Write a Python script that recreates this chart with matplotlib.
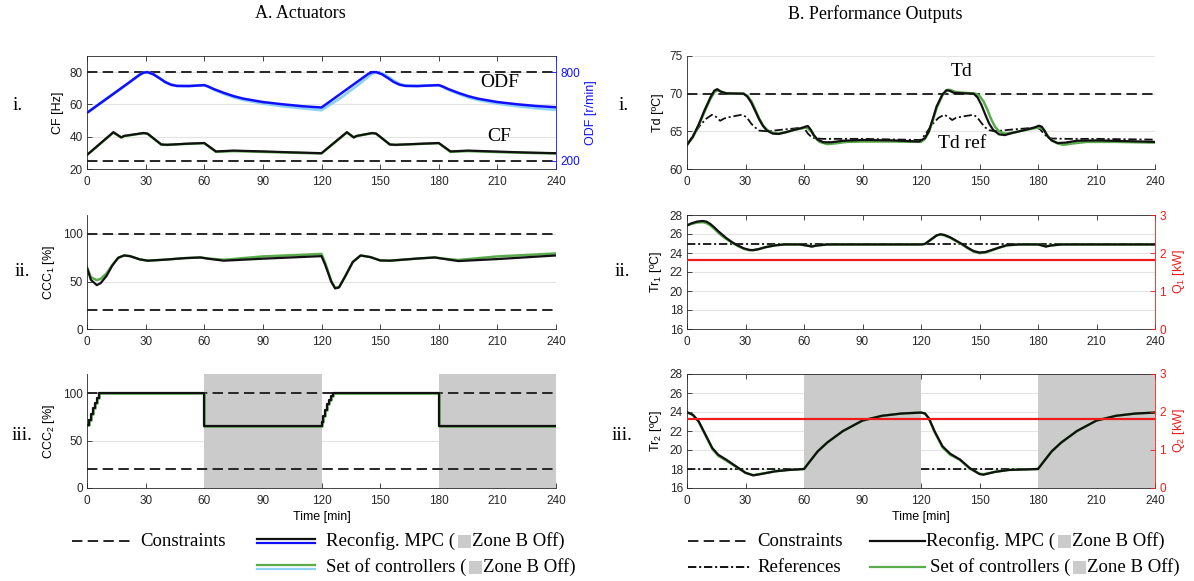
import matplotlib
matplotlib.use("Agg")
import matplotlib.pyplot as plt
from matplotlib.lines import Line2D
from matplotlib.patches import Rectangle

plt.rcParams['font.family'] = 'Liberation Sans'
plt.rcParams['mathtext.fontset'] = 'custom'
plt.rcParams['mathtext.rm'] = 'Liberation Sans'
plt.rcParams['mathtext.it'] = 'Liberation Sans:italic'
plt.rcParams['lines.scale_dashes'] = False

SERIF = 'Liberation Serif'
W, H = 1194, 581

# ---------------- data ----------------
zone_b_off = [(60, 120), (180, 240)]
cf_limits = [25, 80]
ccc_limits = [20, 100]
td_max = 70
q1_value = 1.82
q2_value = 1.82
tr1_ref = 24.9
tr2_ref = 18.0
tr2_ref_start = [0, 120]
tr2_ref_end = [60, 180]

# A.i  ODF [r/min]
t_odf = [0, 10, 20, 27, 29, 31, 34, 37, 40, 43, 46, 52, 56, 60, 62, 65, 70, 75, 80, 90, 100, 110, 120,
         130, 140, 144, 146, 148, 151, 154, 157, 160, 163, 169, 174, 180, 182, 185, 190, 195, 200, 210,
         220, 230, 240]
odf_mpc = [525, 620, 715, 783, 797, 800, 785, 760, 733, 715, 707, 706, 709, 712, 703, 685, 660, 638, 621,
           598, 583, 570, 561, 656, 751, 789, 800, 800, 785, 760, 733, 715, 707, 706, 709, 712, 703, 685,
           660, 638, 621, 598, 583, 571, 563]
odf_set = [525, 620, 715, 783, 797, 800, 785, 760, 733, 715, 707, 706, 709, 712, 701, 681, 654, 630, 612,
           588, 570, 556, 543, 628, 727, 770, 790, 800, 792, 770, 742, 720, 709, 706, 709, 712, 701, 681,
           654, 630, 612, 588, 570, 556, 545]

# A.i  CF [Hz]
t_cf = [0, 13.5, 17.5, 19, 29, 31, 38, 41, 50, 60, 66, 75, 90, 105, 120,
        133, 136.5, 138, 146, 148, 155, 158, 170, 180, 186, 195, 210, 225, 240]
cf_mpc = [28.7, 42.8, 39.6, 40.5, 42.3, 41.9, 35.2, 35.0, 35.6, 36.1, 30.9, 31.4, 30.9, 30.3, 29.8,
          42.8, 39.6, 40.5, 42.3, 41.9, 35.2, 35.0, 35.6, 36.1, 30.9, 31.4, 30.8, 30.2, 29.8]
cf_set = [28.7, 42.6, 39.5, 40.4, 42.2, 41.8, 35.1, 34.9, 35.5, 36.0, 30.6, 31.1, 30.6, 30.1, 29.6,
          42.6, 39.5, 40.4, 42.2, 41.8, 35.1, 34.9, 35.5, 36.0, 30.6, 31.1, 30.5, 30.0, 29.6]

# A.ii  CCC1 [%]
t_ccc1 = [0, 2, 5, 7, 10, 13, 16, 19, 22, 27, 31, 40, 50, 58, 62, 70, 90, 120,
          122, 125, 127, 129, 132, 136, 140, 145, 150, 155, 170, 178, 182, 190, 210, 240]
ccc1_mpc = [64.6, 51.7, 46.2, 48.3, 55.9, 67.0, 75.0, 77.4, 76.7, 73.3, 71.9, 73.0, 74.6, 75.3, 74.0,
            71.9, 74.0, 76.7, 67.0, 49.7, 42.7, 43.8, 54.9, 70.5, 77.4, 75.7, 72.2, 71.9, 74.3, 75.3,
            74.0, 71.5, 73.6, 77.4]
ccc1_set = [64.6, 54.5, 51.4, 52.8, 58.5, 67.5, 75.0, 77.4, 76.7, 73.3, 71.9, 73.0, 74.6, 75.3, 74.2,
            72.8, 76.4, 79.0, 69.0, 50.5, 43.2, 44.2, 55.0, 70.5, 77.4, 75.7, 72.2, 71.9, 74.3, 75.3,
            74.2, 72.6, 76.4, 79.5]

# A.iii  CCC2 [%]
t_ccc2 = [0, 1, 2, 3, 4, 5, 6, 60, 120, 121, 122, 123, 124, 125, 126, 180, 240]
ccc2_mpc = [66, 72, 78, 84, 90, 95, 100, 65, 70, 76, 82, 88, 93, 97, 100, 65, 65]
ccc2_set = [66, 72, 78, 84, 90, 95, 100, 65, 70, 76, 82, 88, 93, 97, 100, 65, 65]

# B.i  Td [ºC]
t_td = [0, 3, 6, 9, 12, 14, 15.5, 17, 20, 29, 31, 33, 35, 37, 39, 41, 44, 47, 51, 55, 59, 61, 62, 63.5,
        65, 67, 70, 74, 80, 90, 105, 119, 122, 124, 126, 128, 131, 133, 134.5, 137, 147, 149, 151, 153,
        155, 157, 160, 163, 167, 172, 178, 180.5, 182, 183.5, 185, 187, 190, 194, 200, 210, 225, 240]
td_mpc = [63.2, 64.3, 65.9, 67.8, 69.5, 70.4, 70.6, 70.3, 70.05, 70.0, 69.6, 68.8, 67.7, 66.6, 65.7,
          65.1, 64.7, 64.65, 64.9, 65.2, 65.45, 65.65, 65.7, 65.2, 64.5, 63.9, 63.55, 63.55, 63.75, 63.85,
          63.8, 63.65, 64.1, 65.0, 66.6, 68.3, 69.9, 70.45, 70.4, 70.1, 70.0, 69.5, 68.5, 67.2, 66.0,
          65.2, 64.6, 64.5, 64.8, 65.1, 65.5, 65.75, 65.6, 65.0, 64.3, 63.8, 63.45, 63.5, 63.75, 63.8,
          63.7, 63.6]
t_td_set = [0, 3, 6, 9, 12, 14, 16, 18, 21, 29, 31, 33, 35, 37, 39, 41, 44, 47, 51, 55, 59, 61, 62, 64,
            66, 68, 72, 76, 82, 90, 105, 120, 122, 124, 126, 128, 131, 133.5, 135, 138, 148, 150, 152,
            154, 156, 158, 160, 163, 167, 172, 178, 181, 183, 185, 187, 190, 193, 198, 205, 220, 240]
td_set = [63.2, 64.2, 65.8, 67.6, 69.3, 70.2, 70.5, 70.2, 70.0, 70.0, 69.7, 69.0, 67.9, 66.7, 65.8,
          65.2, 64.8, 64.7, 64.9, 65.2, 65.4, 65.5, 65.4, 64.9, 64.1, 63.6, 63.3, 63.4, 63.6, 63.65,
          63.65, 63.6, 64.0, 64.9, 66.4, 68.1, 69.8, 70.5, 70.5, 70.2, 70.0, 69.7, 69.0, 67.9, 66.6,
          65.6, 65.0, 64.7, 64.8, 65.1, 65.4, 65.5, 65.2, 64.4, 63.8, 63.4, 63.2, 63.4, 63.6, 63.6, 63.5]
t_td_ref = [0, 4, 7, 10, 12.8, 15, 17, 19, 22, 28, 30.5, 33, 35, 37, 41, 48, 54, 59, 60.7, 62, 64, 66,
            70, 90, 120, 123, 126, 129, 132, 134, 136, 138, 142, 147, 149, 151, 153, 155, 158, 165, 172,
            179, 181, 183, 185, 187, 195, 210, 240]
td_ref = [63.2, 64.8, 65.9, 66.7, 67.2, 66.9, 66.4, 66.7, 66.9, 67.2, 66.9, 66.0, 65.5, 65.1, 65.0,
          65.2, 65.35, 65.5, 65.2, 64.7, 64.2, 64.05, 64.0, 64.0, 63.85, 64.9, 66.0, 66.8, 67.2, 66.9,
          66.5, 66.8, 67.0, 67.2, 66.8, 66.1, 65.5, 65.15, 65.0, 65.2, 65.35, 65.5, 65.3, 64.7, 64.2,
          64.05, 64.0, 64.0, 63.9]

# B.ii  Tr1 [ºC]
t_tr1 = [0, 2, 5, 8, 10, 12, 14, 16, 18, 20, 23, 26, 29, 32, 34, 37, 40, 45, 50, 58, 61, 64, 67, 72,
         120, 122, 125, 128, 130, 132, 135, 138, 141, 144, 147, 150, 153, 156, 160, 164, 170, 180, 182,
         184, 187, 192, 240]
tr1_mpc = [26.9, 27.1, 27.3, 27.37, 27.3, 27.05, 26.7, 26.3, 25.95, 25.6, 25.15, 24.8, 24.5, 24.32,
           24.3, 24.42, 24.6, 24.8, 24.9, 24.9, 24.8, 24.68, 24.8, 24.9, 24.9, 24.95, 25.4, 25.85,
           25.97, 25.9, 25.65, 25.3, 24.95, 24.55, 24.2, 24.05, 24.1, 24.3, 24.57, 24.82, 24.9, 24.9,
           24.8, 24.68, 24.8, 24.9, 24.9]
tr1_set = [26.9, 27.05, 27.2, 27.25, 27.15, 26.9, 26.55, 26.15, 25.8, 25.5, 25.1, 24.75, 24.45, 24.3,
           24.3, 24.42, 24.6, 24.8, 24.9, 24.9, 24.8, 24.7, 24.8, 24.9, 24.9, 24.95, 25.4, 25.85, 25.95,
           25.85, 25.6, 25.25, 24.9, 24.5, 24.15, 23.98, 24.05, 24.25, 24.55, 24.8, 24.9, 24.9, 24.8,
           24.7, 24.8, 24.9, 24.9]

# B.iii  Tr2 [ºC]
t_tr2 = [0, 3, 6, 10, 13, 16, 20, 25, 30, 34, 38, 45, 52, 60, 63, 67, 72, 80, 90, 100, 110, 120,
         122, 124, 127, 131, 135, 140, 145, 150, 152, 158, 165, 180, 183, 187, 192, 200, 210, 220, 230, 240]
tr2_mpc = [23.98, 23.7, 23.0, 21.4, 20.2, 19.5, 19.0, 18.3, 17.6, 17.33, 17.47, 17.75, 17.9, 18.0,
           18.8, 19.85, 20.8, 22.0, 23.1, 23.6, 23.84, 23.94, 23.85, 23.35, 21.95, 20.4, 19.6, 19.0,
           18.1, 17.47, 17.4, 17.7, 17.9, 18.0, 18.8, 19.85, 20.8, 22.0, 23.1, 23.6, 23.84, 23.94]
tr2_set = [23.98, 23.7, 23.0, 21.35, 20.1, 19.4, 18.9, 18.25, 17.6, 17.35, 17.5, 17.75, 17.9, 18.0,
           18.8, 19.85, 20.8, 22.0, 23.1, 23.6, 23.84, 23.94, 23.85, 23.35, 21.9, 20.3, 19.5, 18.95,
           18.05, 17.5, 17.45, 17.7, 17.9, 18.0, 18.8, 19.85, 20.8, 22.0, 23.1, 23.6, 23.84, 23.94]

# ---------------- styling ----------------
BLACK = '#111111'
AXC = '#262626'
BLUE = '#1010ff'
LBLUE = '#8fd0f5'
GREEN = '#5aab4c'
RED = '#ee1c1c'
SHADE = '#cbcbcb'
DASH = (7.5, 3.8)
DASHDOT = (6, 2, 1.5, 2)

fig = plt.figure(figsize=(W / 100, H / 100), dpi=100)

COLS = {'A': (87, 556), 'B': (687, 1155)}
ROWS = [(56, 169), (215, 329), (374, 488)]


def px_axes(col, row):
    x0, x1 = COLS[col]
    y0, y1 = ROWS[row]
    return fig.add_axes([x0 / W, 1 - y1 / H, (x1 - x0) / W, (y1 - y0) / H])


def style(ax, ylim, yticks, box=False):
    ax.set_xlim(0, 240)
    ax.set_xticks(range(0, 241, 30))
    ax.set_ylim(*ylim)
    ax.set_yticks(yticks)
    ax.grid(axis='y', color='#e4e4e4', lw=0.8)
    ax.set_axisbelow(True)
    ax.tick_params(direction='in', length=3.5, width=0.6, labelsize=8.5, colors=AXC,
                   top=box, right=False, pad=3)
    ax.tick_params(axis='x', pad=5)
    for s in ax.spines.values():
        s.set_linewidth(0.6)
        s.set_color(AXC)
    ax.spines['right'].set_visible(False)
    if not box:
        ax.spines['top'].set_visible(False)


def twin(ax, ylim, yticks, color, label):
    ax2 = ax.twinx()
    ax2.set_ylim(*ylim)
    ax2.set_yticks(yticks)
    ax2.tick_params(direction='in', length=3.5, width=0.6, labelsize=8.5, colors=color, pad=3)
    for k in ['left', 'top', 'bottom']:
        ax2.spines[k].set_visible(False)
    ax2.spines['right'].set_color(color)
    ax2.spines['right'].set_linewidth(0.6)
    ax2.set_ylabel(label, color=color, fontsize=9)
    return ax2


def hdash(ax, y):
    ax.axhline(y, color=AXC, lw=1.4, dashes=DASH)


# ---- A.i ----
ax = px_axes('A', 0)
style(ax, (20, 90), [20, 40, 60, 80], box=True)
ax.set_ylabel('CF [Hz]', fontsize=9)
for c in cf_limits:
    hdash(ax, c)
ax.plot(t_cf, cf_set, color=GREEN, lw=1.8)
ax.plot(t_cf, cf_mpc, color=BLACK, lw=1.6)
odf_lo = 200 - (25 - 20) * 600 / 55
odf_hi = 800 + (90 - 80) * 600 / 55
ax2 = twin(ax, (odf_lo, odf_hi), [200, 800], BLUE, 'ODF [r/min]')
ax2.plot(t_odf, odf_set, color=LBLUE, lw=2.0)
ax2.plot(t_odf, odf_mpc, color=BLUE, lw=1.8)
ax.text(211, 73.3, 'ODF', family=SERIF, fontsize=14, ha='center', va='center')
ax.text(211, 40.4, 'CF', family=SERIF, fontsize=14, ha='center', va='center')

# ---- A.ii ----
ax = px_axes('A', 1)
style(ax, (0, 120), [0, 50, 100])
ax.set_ylabel('CCC$_1$ [%]', fontsize=9)
for c in ccc_limits:
    hdash(ax, c)
ax.plot(t_ccc1, ccc1_set, color=GREEN, lw=1.8)
ax.plot(t_ccc1, ccc1_mpc, color=BLACK, lw=1.6)

# ---- A.iii ----
ax = px_axes('A', 2)
style(ax, (0, 120), [0, 50, 100])
ax.set_ylabel('CCC$_2$ [%]', fontsize=9)
ax.set_xlabel('Time [min]', fontsize=9, labelpad=3)
for a, b in zone_b_off:
    ax.axvspan(a, b, color=SHADE, lw=0, zorder=1)
for c in ccc_limits:
    hdash(ax, c)
ax.plot(t_ccc2, ccc2_set, color=GREEN, lw=1.8, drawstyle='steps-post')
ax.plot(t_ccc2, ccc2_mpc, color=BLACK, lw=1.6, drawstyle='steps-post')

# ---- B.i ----
ax = px_axes('B', 0)
style(ax, (60, 75), [60, 65, 70, 75])
ax.set_ylabel('Td [ºC]', fontsize=9)
hdash(ax, td_max)
ax.plot(t_td_ref, td_ref, color=BLACK, lw=1.3, dashes=DASHDOT)
ax.plot(t_td_set, td_set, color=GREEN, lw=1.8)
ax.plot(t_td, td_mpc, color=BLACK, lw=1.6)
ax.text(141, 72.9, 'Td', family=SERIF, fontsize=14, ha='center', va='center')
ax.text(141, 63.4, 'Td ref', family=SERIF, fontsize=14, ha='center', va='center')

# ---- B.ii ----
ax = px_axes('B', 1)
style(ax, (16, 28), list(range(16, 29, 2)), box=True)
ax.set_ylabel('Tr$_1$ [ºC]', fontsize=9)
ax.axhline(tr1_ref, color=BLACK, lw=1.3, dashes=DASHDOT)
ax.plot(t_tr1, tr1_set, color=GREEN, lw=1.8)
ax.plot(t_tr1, tr1_mpc, color=BLACK, lw=1.6)
ax2 = twin(ax, (0, 3), [0, 1, 2, 3], RED, 'Q$_1$ [kW]')
ax2.axhline(q1_value, color=RED, lw=1.6)

# ---- B.iii ----
ax = px_axes('B', 2)
style(ax, (16, 28), list(range(16, 29, 2)), box=True)
ax.set_ylabel('Tr$_2$ [ºC]', fontsize=9)
ax.set_xlabel('Time [min]', fontsize=9, labelpad=3)
for a, b in zone_b_off:
    ax.axvspan(a, b, color=SHADE, lw=0, zorder=1)
for a, b in zip(tr2_ref_start, tr2_ref_end):
    ax.plot([a, b], [tr2_ref, tr2_ref], color=BLACK, lw=1.3, dashes=DASHDOT)
ax.plot(t_tr2, tr2_set, color=GREEN, lw=1.8)
ax.plot(t_tr2, tr2_mpc, color=BLACK, lw=1.6)
ax2 = twin(ax, (0, 3), [0, 1, 2, 3], RED, 'Q$_2$ [kW]')
ax2.axhline(q2_value, color=RED, lw=1.6)

# ---------------- titles and panel numbers ----------------
def ftext(x, y, s, **kw):
    return fig.text(x / W, 1 - y / H, s, family=SERIF, **kw)


ftext(300, 14, 'A. Actuators', fontsize=13, ha='center', va='center')
ftext(875, 14, 'B. Performance Outputs', fontsize=13, ha='center', va='center')
for x, y, s in [(18, 106, 'i.'), (22, 271, 'ii.'), (22, 436, 'iii.'),
                (624, 106, 'i.'), (622, 271, 'ii.'), (622, 436, 'iii.')]:
    ftext(x, y, s, fontsize=14, ha='center', va='center')

# ---------------- legends ----------------
def fline(x0, x1, y, **kw):
    fig.add_artist(Line2D([x0 / W, x1 / W], [1 - y / H, 1 - y / H], transform=fig.transFigure, **kw))


renderer = fig.canvas.get_renderer()


def zone_text(x, y, prefix, fs=13.5):
    t1 = ftext(x, y, prefix, fontsize=fs, ha='left', va='center')
    bb = t1.get_window_extent(renderer)
    sq = 13
    fig.add_artist(Rectangle(((bb.x1 + 3) / W, (H - y - sq / 2) / H), sq / W, sq / H,
                             transform=fig.transFigure, color=SHADE, lw=0))
    ftext(bb.x1 + sq + 4, y, 'Zone B Off)', fontsize=fs, ha='left', va='center')


R1, R2 = 541, 567
# left legend
fline(72, 132, R1, color=AXC, lw=1.4, dashes=DASH)
ftext(140, R1, 'Constraints', fontsize=13.5, ha='left', va='center')
fline(257, 315, R1 - 2, color=BLACK, lw=1.6)
fline(257, 315, R1 + 2, color=BLUE, lw=1.6)
zone_text(326, R1, 'Reconfig. MPC (')
fline(257, 315, R2 - 2, color=GREEN, lw=1.6)
fline(257, 315, R2 + 2, color=LBLUE, lw=1.6)
zone_text(326, R2, 'Set of controllers (')

# right legend
fline(688, 750, R1, color=AXC, lw=1.4, dashes=DASH)
ftext(757, R1, 'Constraints', fontsize=13.5, ha='left', va='center')
fline(688, 750, R2, color=BLACK, lw=1.4, dashes=DASHDOT)
ftext(757, R2, 'References', fontsize=13.5, ha='left', va='center')
fline(870, 925, R1, color=BLACK, lw=1.6)
zone_text(926, R1, 'Reconfig. MPC (')
fline(870, 925, R2, color=GREEN, lw=1.6)
zone_text(930, R2, 'Set of controllers (')

fig.savefig('out.png', dpi=100)
